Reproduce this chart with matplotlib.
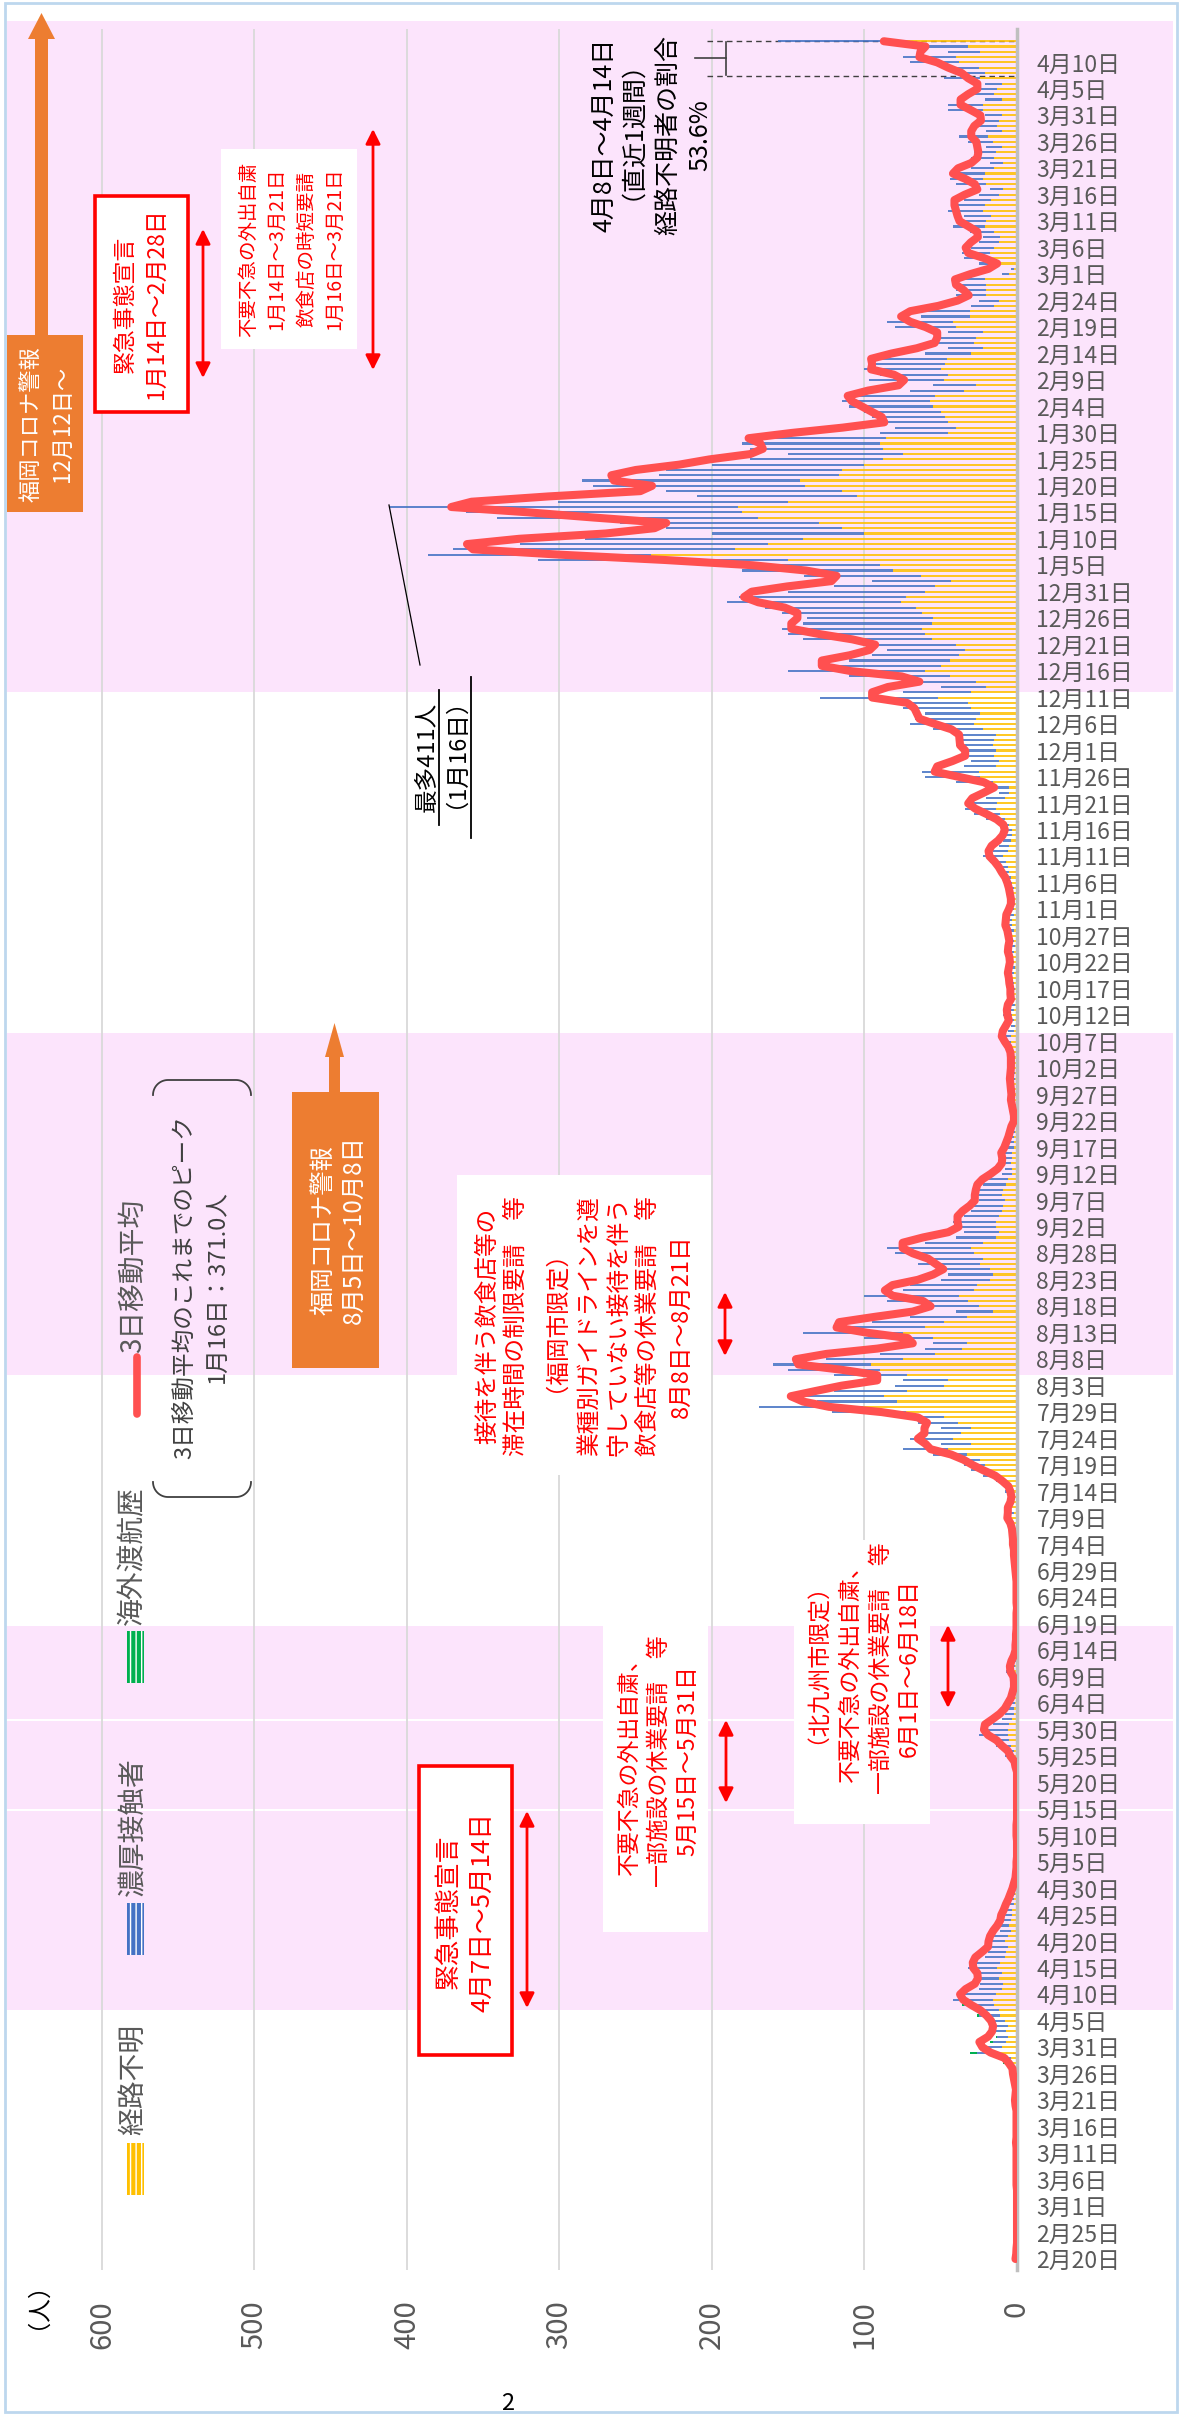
import numpy as np
import pandas as pd
import matplotlib
matplotlib.use('Agg')
import matplotlib.pyplot as plt
from matplotlib.patches import Rectangle, Polygon
from matplotlib.font_manager import FontProperties, findfont, get_font

plt.rcParams['font.family'] = ['Noto Sans CJK JP', 'DejaVu Sans']

# 日別陽性者数（合計）と内訳 2020/2/20〜2021/4/14
total_2002 = [1, 0, 0, 0, 0, 0, 0, 0, 0, 0]
total_2003 = [0, 0, 0, 0, 1, 0, 0, 1, 0, 0, 1, 0, 1, 0, 0, 1, 0, 0, 1, 2,
              1, 0, 1, 3, 2, 3, 4, 9, 12, 31, 25]
total_2004 = [18, 14, 17, 16, 18, 26, 28, 36, 42, 34, 25, 24, 28, 26, 32, 29, 21, 19, 17, 20,
              16, 11, 12, 10, 9, 7, 6, 4, 3, 2]
total_2005 = [1, 0, 1, 0, 0, 0, 0, 0, 0, 1, 0, 0, 0, 0, 0, 0, 0, 0, 0, 0,
              0, 0, 3, 2, 8, 8, 14, 18, 25, 22, 16]
total_2006 = [10, 8, 6, 4, 2, 3, 1, 2, 4, 7, 3, 1, 2, 0, 1, 1, 0, 0, 1, 0,
              0, 0, 1, 0, 0, 1, 0, 1, 2, 1]
total_2007 = [2, 3, 1, 4, 3, 2, 5, 6, 8, 4, 6, 3, 2, 8, 7, 14, 22, 30, 35, 40,
              55, 75, 50, 70, 62, 50, 65, 80, 121, 169, 131]
total_2008 = [145, 120, 80, 75, 120, 150, 160, 125, 90, 60, 55, 100, 140, 115, 95, 70, 40, 60, 85, 100,
              75, 70, 50, 45, 50, 65, 60, 80, 85, 60, 40]
total_2009 = [35, 40, 42, 35, 30, 28, 25, 30, 26, 22, 20, 10, 8, 12, 9, 10, 6, 5, 6, 3,
              2, 1, 3, 4, 3, 5, 3, 4, 6, 4]
total_2010 = [3, 5, 4, 3, 6, 8, 10, 12, 6, 4, 6, 9, 5, 4, 3, 6, 4, 5, 7, 6,
              3, 5, 7, 6, 4, 5, 8, 6, 9, 7, 5]
total_2011 = [4, 3, 5, 6, 5, 8, 10, 12, 14, 18, 22, 16, 12, 9, 7, 8, 12, 20, 28, 34,
              34, 20, 12, 13, 40, 60, 62, 35, 30, 37]
total_2012 = [35, 40, 38, 36, 55, 70, 67, 60, 75, 81, 129, 75, 50, 67, 110, 150, 124, 110, 95, 85,
              99, 140, 150, 154, 140, 138, 154, 165, 190, 182, 150]
total_2101 = [120, 95, 140, 180, 200, 314, 386, 370, 326, 283, 200, 230, 260, 341, 361, 411, 301, 210, 230, 278,
              285, 235, 230, 200, 175, 150, 175, 180, 173, 90, 80]
total_2102 = [91, 95, 100, 110, 115, 108, 70, 55, 97, 90, 100, 95, 92, 60, 45, 57, 55, 45, 80, 85,
              63, 62, 30, 25, 40, 40, 40, 42]
total_2103 = [10, 4, 25, 35, 36, 30, 25, 22, 31, 42, 40, 35, 45, 43, 35, 25, 18, 40, 44, 42,
              30, 18, 30, 28, 20, 32, 38, 20, 26, 25, 21]
total_2104 = [45, 45, 21, 30, 27, 21, 48, 40, 47, 70, 75, 45, 60, 157]

unknown_2002 = [1, 0, 0, 0, 0, 0, 0, 0, 0, 0]
unknown_2003 = [0, 0, 0, 0, 1, 0, 0, 0, 0, 0, 1, 0, 0, 0, 0, 1, 0, 0, 0, 1,
                0, 0, 1, 1, 1, 1, 2, 4, 4, 12, 10]
unknown_2004 = [7, 6, 7, 6, 8, 11, 12, 15, 16, 14, 10, 9, 12, 10, 13, 11, 8, 7, 6, 8,
                6, 4, 5, 4, 3, 3, 2, 2, 1, 1]
unknown_2005 = [1, 0, 0, 0, 0, 0, 0, 0, 0, 0, 0, 0, 0, 0, 0, 0, 0, 0, 0, 0,
                0, 0, 1, 1, 2, 2, 4, 5, 6, 6, 5]
unknown_2006 = [3, 2, 2, 1, 1, 1, 0, 1, 1, 2, 1, 0, 1, 0, 0, 0, 0, 0, 0, 0,
                0, 0, 0, 0, 0, 1, 0, 0, 1, 0]
unknown_2007 = [1, 1, 1, 2, 1, 1, 2, 3, 4, 2, 3, 2, 1, 4, 4, 8, 13, 18, 21, 24,
                33, 45, 30, 42, 37, 30, 39, 48, 73, 101, 79]
unknown_2008 = [87, 72, 48, 45, 72, 90, 96, 75, 54, 36, 33, 55, 75, 60, 48, 33, 16, 25, 32, 38,
                28, 26, 18, 16, 18, 24, 22, 28, 30, 22, 14]
unknown_2009 = [12, 14, 14, 12, 10, 9, 8, 10, 9, 7, 6, 3, 3, 4, 3, 3, 2, 2, 2, 1,
                1, 0, 1, 1, 1, 2, 1, 1, 2, 1]
unknown_2010 = [1, 2, 1, 1, 2, 3, 4, 4, 2, 1, 2, 3, 2, 1, 1, 2, 1, 2, 3, 2,
                1, 2, 3, 2, 1, 2, 3, 2, 3, 3, 2]
unknown_2011 = [2, 1, 2, 3, 2, 3, 4, 5, 6, 7, 9, 6, 5, 4, 3, 3, 5, 8, 11, 14,
                13, 8, 5, 5, 16, 24, 25, 14, 12, 15]
unknown_2012 = [14, 16, 15, 14, 22, 28, 27, 24, 30, 32, 52, 30, 20, 27, 44, 60, 50, 44, 38, 34,
                40, 56, 60, 62, 56, 55, 62, 66, 76, 73, 60]
unknown_2101 = [54, 43, 63, 81, 90, 150, 240, 185, 163, 140, 100, 115, 130, 170, 180, 183, 150, 105, 115, 139,
                142, 117, 115, 100, 88, 75, 88, 90, 86, 45, 40]
unknown_2102 = [45, 47, 50, 55, 57, 54, 35, 27, 48, 45, 50, 47, 46, 30, 22, 28, 27, 22, 40, 42,
                31, 31, 15, 12, 20, 20, 20, 21]
unknown_2103 = [5, 2, 12, 17, 18, 15, 12, 11, 15, 21, 20, 17, 22, 21, 17, 12, 9, 20, 22, 21,
                15, 9, 15, 14, 10, 16, 19, 10, 13, 12, 10]
unknown_2104 = [22, 22, 10, 15, 13, 10, 24, 21, 25, 38, 40, 24, 32, 84]

overseas_2003 = [0, 0, 0, 0, 0, 0, 0, 0, 0, 0, 0, 0, 0, 0, 0, 0, 0, 0, 0, 0,
                 1, 0, 0, 1, 0, 1, 0, 2, 3, 5, 2]
overseas_2004 = [2, 1, 1, 0, 1, 1, 0, 1, 0, 0, 0, 0, 0, 0, 0, 0, 0, 0, 0, 0,
                 0, 0, 0, 0, 0, 0, 0, 0, 0, 0]

dates = pd.date_range('2020-02-20', '2021-04-14')
total = np.array(total_2002 + total_2003 + total_2004 + total_2005 + total_2006 + total_2007
                 + total_2008 + total_2009 + total_2010 + total_2011 + total_2012 + total_2101
                 + total_2102 + total_2103 + total_2104)
unknown = np.array(unknown_2002 + unknown_2003 + unknown_2004 + unknown_2005 + unknown_2006
                   + unknown_2007 + unknown_2008 + unknown_2009 + unknown_2010 + unknown_2011
                   + unknown_2012 + unknown_2101 + unknown_2102 + unknown_2103 + unknown_2104)
overseas = np.array([0] * 10 + overseas_2003 + overseas_2004 + [0] * (len(dates) - 71))
contact = total - unknown - overseas
avg3 = pd.Series(total).rolling(3, min_periods=1).mean()

# 要請・警報期間（背景ピンク）
periods = [('2020-04-07', '2020-05-14'), ('2020-05-15', '2020-05-31'), ('2020-06-01', '2020-06-18'),
           ('2020-08-05', '2020-10-08'), ('2020-12-12', '2021-04-20')]

W, H = 1182, 2420
Y0, DY = 2259, 5.293          # 2/20 の画素位置と1日あたりの画素
PINK = '#FCE4FC'
RED = '#FF0000'
GRAY = '#595959'
JP = ['Noto Sans CJK JP']

fig = plt.figure(figsize=(W / 100, H / 100), dpi=100)

# 背景（ピンクの期間帯）
bg = fig.add_axes([0, 0, 1, 1], zorder=-1)
bg.set_xlim(0, W)
bg.set_ylim((Y0 - H) / DY, Y0 / DY)
bg.axis('off')
for s, e in periods:
    d0 = (pd.Timestamp(s) - dates[0]).days
    d1 = min((pd.Timestamp(e) - dates[0]).days + 0.6, (Y0 - 21) / DY)
    bg.add_patch(Rectangle((7, d0), 1166, d1 - d0, color=PINK, lw=0))

# メインのグラフ
top, bot, left, right = 29, 2270, 7, 1017
ax = fig.add_axes([left / W, 1 - bot / H, (right - left) / W, (bot - top) / H])
ax.patch.set_alpha(0)
d = np.arange(len(dates))
ax.barh(d, unknown, height=0.4, color='#FFC000', alpha=0.85, lw=0, zorder=2)
ax.barh(d, contact, left=unknown, height=0.4, color='#4472C4', alpha=0.85, lw=0, zorder=2)
ax.barh(d, overseas, left=unknown + contact, height=0.4, color='#00B050', lw=0, zorder=2)
ax.plot(avg3, d, color='#FF5050', lw=5.8, solid_joinstyle='round', solid_capstyle='round', zorder=4)
ax.set_xlim((right - left) / 1.525, 0)
ax.set_ylim((Y0 - bot) / DY, (Y0 - top) / DY)

ax.set_xticks(range(0, 700, 100))
ax.tick_params(axis='x', length=0, pad=22, labelsize=21, labelrotation=90, labelcolor=GRAY)
ax.yaxis.tick_right()
tick_idx = list(range(0, len(dates), 5))
ax.set_yticks(tick_idx)
ax.set_yticklabels([f'{dates[i].month}月{dates[i].day}日' for i in tick_idx])
ax.tick_params(axis='y', length=0, pad=14, labelsize=16.5, labelcolor=GRAY)
ax.xaxis.grid(True, color='#d9d9d9', lw=1.3)
ax.set_axisbelow(True)
for sp in ['left', 'top', 'bottom']:
    ax.spines[sp].set_visible(False)
ax.spines['right'].set_color('#bfbfbf')
ax.spines['right'].set_linewidth(2.5)

# 直近1週間の破線
for dd in [412.5, 419]:
    ax.plot([203, 2], [dd, dd], ls=(0, (4, 3)), color='#404040', lw=1, zorder=1)

# 注記レイヤー（画素座標）
ov = fig.add_axes([0, 0, 1, 1], zorder=5)
ov.set_xlim(0, W)
ov.set_ylim(H, 0)
ov.axis('off')

jp_font = get_font(findfont(FontProperties(family=JP)))


def ink_offset(s, size):
    # Agg は回転文字でも先頭グリフの左余白を x 方向にずらすので、その分を戻す
    try:
        jp_font.clear()
        jp_font.set_size(size, 100)
        jp_font.set_text(s, 0.0)
        return jp_font.get_bitmap_offset()[0] / 64.0
    except Exception:
        return 0.0


def rtext(x, y, s, size, ha='center', **kw):
    # 90度回転の文字: x は文字の中心、基準線で揃える
    em = size * 100 / 72
    if s.startswith('（'):
        # 全角括弧で始まる行は全角スペースを前に置いてずれを防ぐ
        s = '\u3000' + s
        y += 0.5 * em
    ov.text(x + 0.38 * em - ink_offset(s, size), y, s, rotation=90, rotation_mode='anchor',
            ha=ha, va='baseline', fontsize=size, family=JP, **kw)


def vtext(x, y, lines, size, pitch, **kw):
    n = len(lines)
    for i, s in enumerate(lines):
        rtext(x + (i - (n - 1) / 2) * pitch, y, s, size, **kw)


def red_arrow(x, y0, y1):
    ov.annotate('', xy=(x, y0), xytext=(x, y1),
                arrowprops=dict(arrowstyle='<|-|>', color=RED, lw=2, mutation_scale=22,
                                shrinkA=0, shrinkB=0))


def brace(x0, x1, y, r, s):
    t = np.linspace(0, np.pi / 2, 20)
    xs = np.r_[x0 + r - r * np.cos(t), x1 - r + r * np.sin(t)]
    ys = np.r_[y + s * r - s * r * np.sin(t), y + s * r - s * r * np.cos(t)]
    ov.plot(xs, ys, color='#404040', lw=1.3)


# 外枠
ov.add_patch(Rectangle((5, 3), 1172, 2409, fill=False, ec='#bdd7ee', lw=2))

# 凡例
ov.add_patch(Rectangle((127, 2143), 17, 52, fc='#FFC000', ec='white', hatch='|||', lw=0))
rtext(131, 2135, '経路不明', 20, ha='left', color=GRAY)
ov.add_patch(Rectangle((127, 1903), 17, 52, fc='#4472C4', ec='white', hatch='|||', lw=0))
rtext(131, 1896, '濃厚接触者', 20, ha='left', color=GRAY)
ov.add_patch(Rectangle((127, 1631), 17, 52, fc='#00B050', ec='white', hatch='|||', lw=0))
rtext(131, 1625, '海外渡航歴', 20, ha='left', color=GRAY)
ov.plot([137, 137], [1357, 1414], color='#FF5050', lw=5.5, solid_capstyle='round')
rtext(131, 1353, '3日移動平均', 20, ha='left', color=GRAY)

# 3日移動平均のピーク
brace(153, 251, 1080, 15, 1)
brace(153, 251, 1497, 15, -1)
vtext(200, 1287, ['3日移動平均のこれまでのピーク', '1月16日：371.0人'], 17, 34, color='#404040')

# 福岡コロナ警報（12月12日〜）
ov.add_patch(Rectangle((7, 335), 76, 177, fc='#ED7D31', lw=0))
ov.add_patch(Rectangle((35, 39), 13, 297, fc='#ED7D31', lw=0))
ov.add_patch(Polygon([(28, 39), (55, 39), (41.5, 13)], fc='#ED7D31', lw=0))
vtext(46, 424, ['福岡コロナ警報', '12月12日〜'], 16, 33, color='white')

# 福岡コロナ警報（8月5日〜10月8日）
ov.add_patch(Rectangle((292, 1092), 87, 276, fc='#ED7D31', lw=0))
ov.add_patch(Rectangle((329, 1056), 11, 37, fc='#ED7D31', lw=0))
ov.add_patch(Polygon([(325, 1057), (344, 1057), (334.5, 1023)], fc='#ED7D31', lw=0))
vtext(337, 1230, ['福岡コロナ警報', '8月5日〜10月8日'], 17.5, 31, color='white')

# 緊急事態宣言（2回目）
ov.add_patch(Rectangle((95, 196), 93, 216, fc='white', ec=RED, lw=2.6))
vtext(140, 304, ['緊急事態宣言', '1月14日〜2月28日'], 16.5, 32, color=RED)
red_arrow(203, 229, 378)

ov.add_patch(Rectangle((221, 149), 136, 200, fc='white', lw=0))
vtext(291, 249, ['不要不急の外出自粛', '1月14日〜3月21日', '飲食店の時短要請', '1月16日〜3月21日'],
      14, 29, color=RED)
red_arrow(373, 129, 370)

# 直近1週間の経路不明者の割合
vtext(650, 135, ['4月8日〜4月14日', '（直近1週間）', '経路不明者の割合', '53.6%'], 18, 32, color='black')
ov.plot([726, 726], [42, 75], color='#404040', lw=1.2)
ov.plot([695, 726], [58, 58], color='#404040', lw=1.2)

# 最多
vtext(442, 757, ['最多411人', '（1月16日）'], 17, 32, color='black')
ov.plot([439, 439], [690, 825], color='black', lw=1.3)
ov.plot([471, 471], [677, 838], color='black', lw=1.3)
ov.plot([389, 420], [505, 665], color='black', lw=0.9)

# 8月の要請
ov.add_patch(Rectangle((457, 1175), 254, 300, fc='white', lw=0))
for x, s in [(486, '接待を伴う飲食店等の'), (514, '滞在時間の制限要請　等'), (558, '（福岡市限定）'),
             (589, '業種別ガイドラインを遵'), (618, '守していない接待を伴う'),
             (646, '飲食店等の休業要請　等'), (680, '8月8日〜8月21日')]:
    rtext(x, 1326, s, 17, color=RED)
red_arrow(725, 1292, 1356)

# 緊急事態宣言（1回目）
ov.add_patch(Rectangle((419, 1766), 93, 289, fc='white', ec=RED, lw=2.6))
vtext(464, 1912, ['緊急事態宣言', '4月7日〜5月14日'], 18.5, 33, color=RED)
red_arrow(527, 1811, 2008)

ov.add_patch(Rectangle((603, 1626), 105, 306, fc='white', lw=0))
vtext(657, 1761, ['不要不急の外出自粛、', '一部施設の休業要請　等', '5月15日〜5月31日'], 16.5, 29, color=RED)
red_arrow(726, 1720, 1803)

ov.add_patch(Rectangle((794, 1540), 136, 284, fc='white', lw=0))
vtext(864, 1668, ['（北九州市限定）', '不要不急の外出自粛、', '一部施設の休業要請　等', '6月1日〜6月18日'],
      16.5, 29.5, color=RED)
red_arrow(948, 1625, 1708)

# 単位とページ番号
rtext(40, 2310, '（人）', 17, color='black')
ov.text(508, 2404, '2', ha='center', va='center', fontsize=17, color='black')

fig.savefig('out.png', dpi=100)
